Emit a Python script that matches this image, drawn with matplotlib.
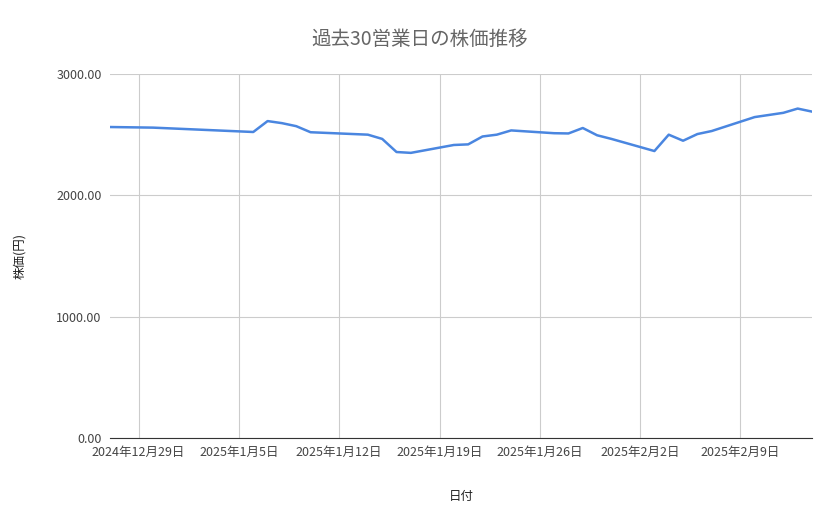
import matplotlib
matplotlib.use("Agg")
import matplotlib.pyplot as plt
import matplotlib.dates as mdates
import pandas as pd

plt.rcParams['font.family'] = ['Noto Sans CJK JP', 'DejaVu Sans']

dates = ["2024-12-27","2024-12-30","2025-01-06","2025-01-07","2025-01-08","2025-01-09","2025-01-10",
         "2025-01-14","2025-01-15","2025-01-16","2025-01-17","2025-01-20","2025-01-21","2025-01-22",
         "2025-01-23","2025-01-24","2025-01-27","2025-01-28","2025-01-29","2025-01-30","2025-01-31",
         "2025-02-03","2025-02-04","2025-02-05","2025-02-06","2025-02-07","2025-02-10","2025-02-12",
         "2025-02-13","2025-02-14"]
prices = [2563,2558,2522,2612,2595,2570,2520,2500,2465,2357,2350,2415,2420,2485,2500,2535,2512,2510,
          2555,2495,2465,2365,2500,2450,2505,2530,2645,2680,2715,2690]
tick_dates = ["2024-12-29","2025-01-05","2025-01-12","2025-01-19","2025-01-26","2025-02-02","2025-02-09"]
tick_labels = ["2024年12月29日","2025年1月5日","2025年1月12日","2025年1月19日","2025年1月26日","2025年2月2日","2025年2月9日"]
y_ticks = [0, 1000, 2000, 3000]

x = pd.to_datetime(dates)
fig = plt.figure(figsize=(8.39, 5.19), dpi=100)
ax = fig.add_axes([110/839, 81/519, 702/839, 364/519])
ax.plot(x, prices, color='#4a86e0', lw=1.8)
ax.set_xlim(x[0], x[-1])
ax.set_ylim(0, 3000)
ax.set_xticks(pd.to_datetime(tick_dates))
ax.set_xticklabels(tick_labels)
ax.set_yticks(y_ticks)
ax.set_yticklabels([f"{v:.2f}" for v in y_ticks])
ax.grid(True, color='#cccccc', lw=0.8)
for s in ['top', 'right', 'left']:
    ax.spines[s].set_visible(False)
ax.spines['bottom'].set_color('#333333')
ax.tick_params(length=0, labelsize=9, colors='#444444', pad=6)
ax.set_xlabel("日付", fontsize=9, color='#222222', labelpad=22)
ax.set_ylabel("株価(円)", fontsize=9, color='#222222', labelpad=22)
fig.suptitle("過去30営業日の株価推移", y=0.945, fontsize=14, color='#666666')
fig.savefig("out.png", dpi=100, facecolor='white')
